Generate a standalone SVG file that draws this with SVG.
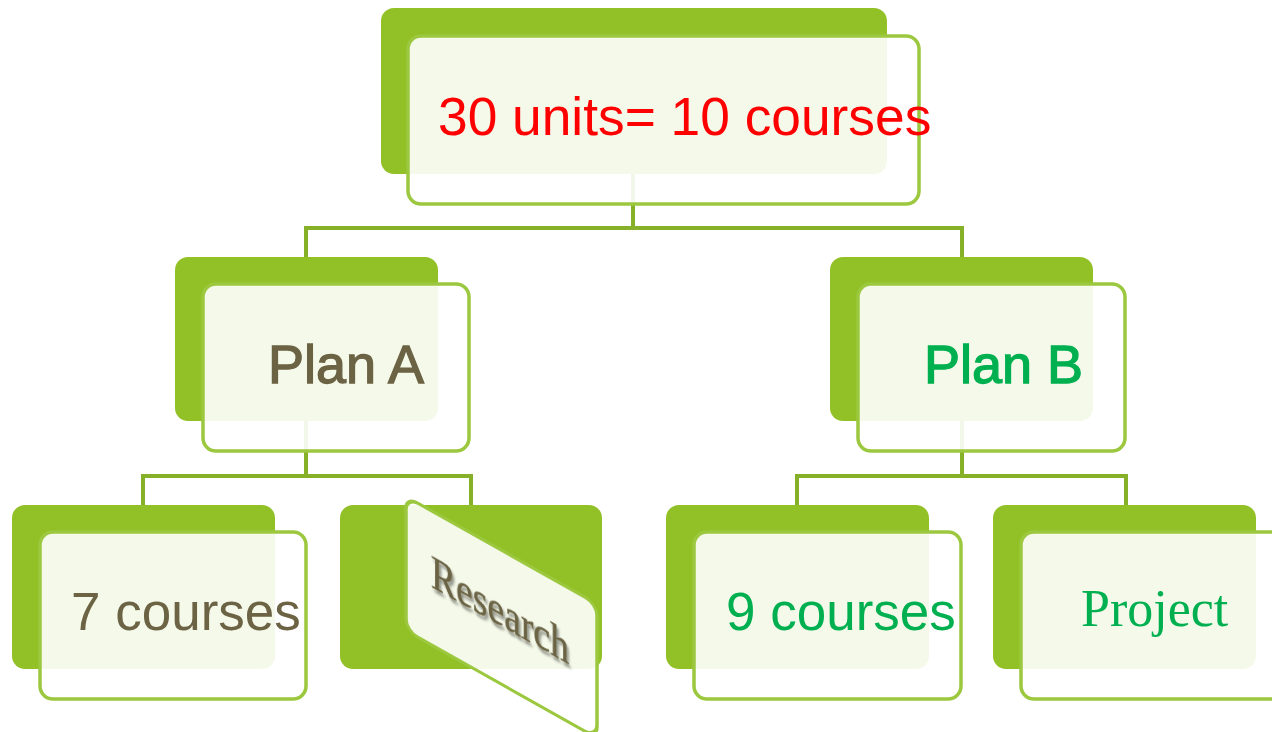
<svg xmlns="http://www.w3.org/2000/svg" width="1272" height="732" viewBox="0 0 1272 732">
<defs>
<style>
.back{fill:#92C127;}
.front{fill:#FFFFFF;fill-opacity:0.9;stroke:#9CC83F;stroke-width:3.5;}
.conn{fill:none;stroke:#86B028;stroke-width:4;}
.sans{font-family:"Liberation Sans",Arial,sans-serif;}
.serif{font-family:"Liberation Serif","Times New Roman",serif;}
.olive{fill:#6B6344;}
.green{fill:#00B050;}
</style>
<filter id="shadow" x="-20%" y="-20%" width="140%" height="140%">
<feDropShadow dx="2" dy="3" stdDeviation="1.5" flood-color="#000000" flood-opacity="0.45"/>
</filter>
</defs>
<rect width="1272" height="732" fill="#FFFFFF"/>
<g id="connectors">
<path class="conn" stroke="#7DA526" d="M633 174 V228 M306 228 H962 M306 226 V257 M962 226 V257"/>
<path class="conn" d="M306 421 V476 M143 476 H471 M143 474 V505 M471 474 V505"/>
<path class="conn" d="M962 421 V476 M797 476 H1126 M797 474 V505 M1126 474 V505"/>
</g>
<g id="node-root">
<rect class="back" x="381" y="8" width="506" height="166" rx="13"/>
<rect class="front" x="408" y="36" width="511" height="168" rx="13"/>
<text class="sans" x="438" y="135" font-size="53.3" fill="#FF0000">30 units= 10 courses</text>
</g>
<g id="node-planA">
<rect class="back" x="175" y="257" width="263" height="164" rx="13"/>
<rect class="front" x="203" y="284" width="266" height="167" rx="13"/>
<text class="sans olive" x="268" y="383" font-size="54" stroke="#6B6344" stroke-width="1.3">Plan A</text>
</g>
<g id="node-planB">
<rect class="back" x="830" y="257" width="263" height="164" rx="13"/>
<rect class="front" x="858" y="284" width="267" height="167" rx="13"/>
<text class="sans green" x="924" y="383" font-size="54" stroke="#00B050" stroke-width="1.3">Plan B</text>
</g>
<g id="node-7courses">
<rect class="back" x="12" y="505" width="263" height="164" rx="13"/>
<rect class="front" x="40" y="532" width="266" height="167" rx="13"/>
<text class="sans olive" x="71" y="630" font-size="53">7 courses</text>
</g>
<g id="node-research">
<rect class="back" x="340" y="505" width="262" height="164" rx="13"/>
<g transform="matrix(1,0.5625,0,1,0,-227.8)">
<rect class="front" x="406" y="496" width="191" height="134" rx="12"/>
<text class="serif olive" x="431" y="572" font-size="46" textLength="138" lengthAdjust="spacingAndGlyphs" stroke="#6B6344" stroke-width="0.6" filter="url(#shadow)">Research</text>
</g>
</g>
<g id="node-9courses">
<rect class="back" x="666" y="505" width="263" height="164" rx="13"/>
<rect class="front" x="694" y="532" width="267" height="167" rx="13"/>
<text class="sans green" x="726" y="630" font-size="53">9 courses</text>
</g>
<g id="node-project">
<rect class="back" x="993" y="505" width="263" height="164" rx="13"/>
<rect class="front" x="1021" y="532" width="280" height="167" rx="13"/>
<text class="serif green" x="1081" y="626" font-size="52">Project</text>
</g>
</svg>
